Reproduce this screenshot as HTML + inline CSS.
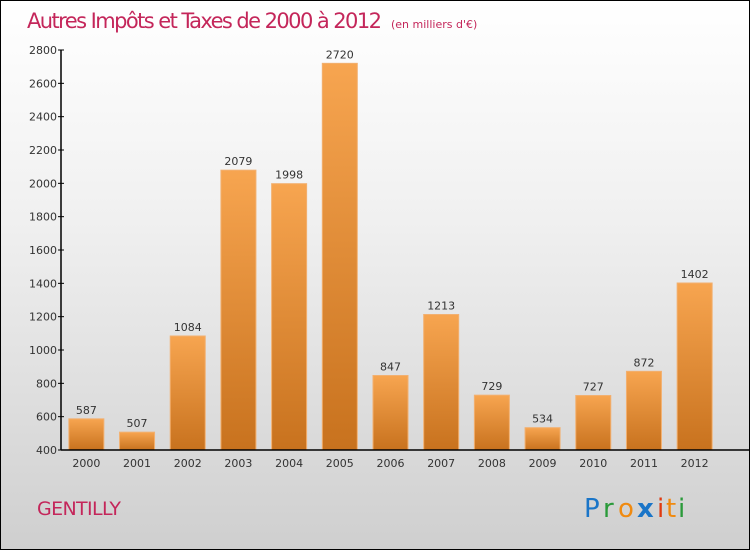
<!DOCTYPE html>
<html><head><meta charset="utf-8"><style>
body{margin:0}
#c{position:relative;width:748px;height:548px;border:1px solid #000;background:linear-gradient(#fff 0%,#f0f0f0 40%,#cfcfcf 100%);font-family:"DejaVu Sans","Liberation Sans",sans-serif;overflow:hidden}
</style></head><body>
<div id="c">
<svg id="s" width="748" height="548">
<defs><linearGradient id="g" x1="0" y1="0" x2="0" y2="1"><stop offset="0" stop-color="#f7a550"/><stop offset="1" stop-color="#c8721e"/></linearGradient></defs>
<text x="26" y="27" font-size="21" fill="#c4265a" font-weight="200" style="font-family:'DejaVu Sans',sans-serif;font-weight:normal" textLength="355">Autres Impôts et Taxes de 2000 à 2012</text>
<text x="390" y="27" font-size="11" fill="#c4265a">(en milliers d'€)</text>
<text x="36" y="514" font-size="19" fill="#c4265a" textLength="84">GENTILLY</text>
<g font-size="26" font-family="'DejaVu Sans',sans-serif">
<text x="583" y="516" fill="#1a75c8">P</text><text x="602" y="516" fill="#2a9a3a">r</text><text x="617" y="516" fill="#f08a10">o</text><text x="636" y="516" fill="#1a75c8" font-weight="bold">x</text><text x="656" y="516" fill="#e03a10">i</text><text x="665" y="516" fill="#f08a10">t</text><text x="677" y="516" fill="#2a9a3a">i</text>
</g>
<g id="plot"></g>
</svg></div>
<script>
const years=["2000","2001","2002","2003","2004","2005","2006","2007","2008","2009","2010","2011","2012"];
const values=[587,507,1084,2079,1998,2720,847,1213,729,534,727,872,1402];
const ticks=[400,600,800,1000,1200,1400,1600,1800,2000,2200,2400,2600,2800];
const NS="http://www.w3.org/2000/svg";
const p=document.getElementById('plot');
const x0=60,x1=719,y0=449,y1=49,vmin=400,vmax=2800;
const band=(x1-x0)/years.length,bw=35;
const y=v=>y0-(v-vmin)/(vmax-vmin)*(y0-y1);
function mk(t,a){const e=document.createElementNS(NS,t);for(const k in a)e.setAttribute(k,a[k]);p.appendChild(e);return e;}
values.forEach((v,i)=>{
const cx=x0+band*(i+0.5);
const r=mk('rect',{x:cx-bw/2,y:y(v),width:bw,height:y0-y(v),fill:'url(#g)',stroke:'#f2b070','stroke-width':1});


const t=mk('text',{x:cx,y:y(v)-5,'font-size':11,fill:'#333','text-anchor':'middle'});t.textContent=v;


const xl=mk('text',{x:cx,y:466,'font-size':11,fill:'#333','text-anchor':'middle'});xl.textContent=years[i];


});
ticks.forEach(v=>{
const l=mk('line',{x1:x0-3,x2:x0+3,y1:y(v),y2:y(v),stroke:'#000'});


const t=mk('text',{x:x0-4,y:y(v)+4,'font-size':11,fill:'#333','text-anchor':'end'});t.textContent=v;


});
const ya=mk('line',{x1:x0,x2:x0,y1:y1,y2:y0,stroke:'#000','stroke-width':1.5});


const xa=mk('line',{x1:x0,x2:x1+30,y1:y0,y2:y0,stroke:'#000','stroke-width':1.5});


</script>
</body></html>
